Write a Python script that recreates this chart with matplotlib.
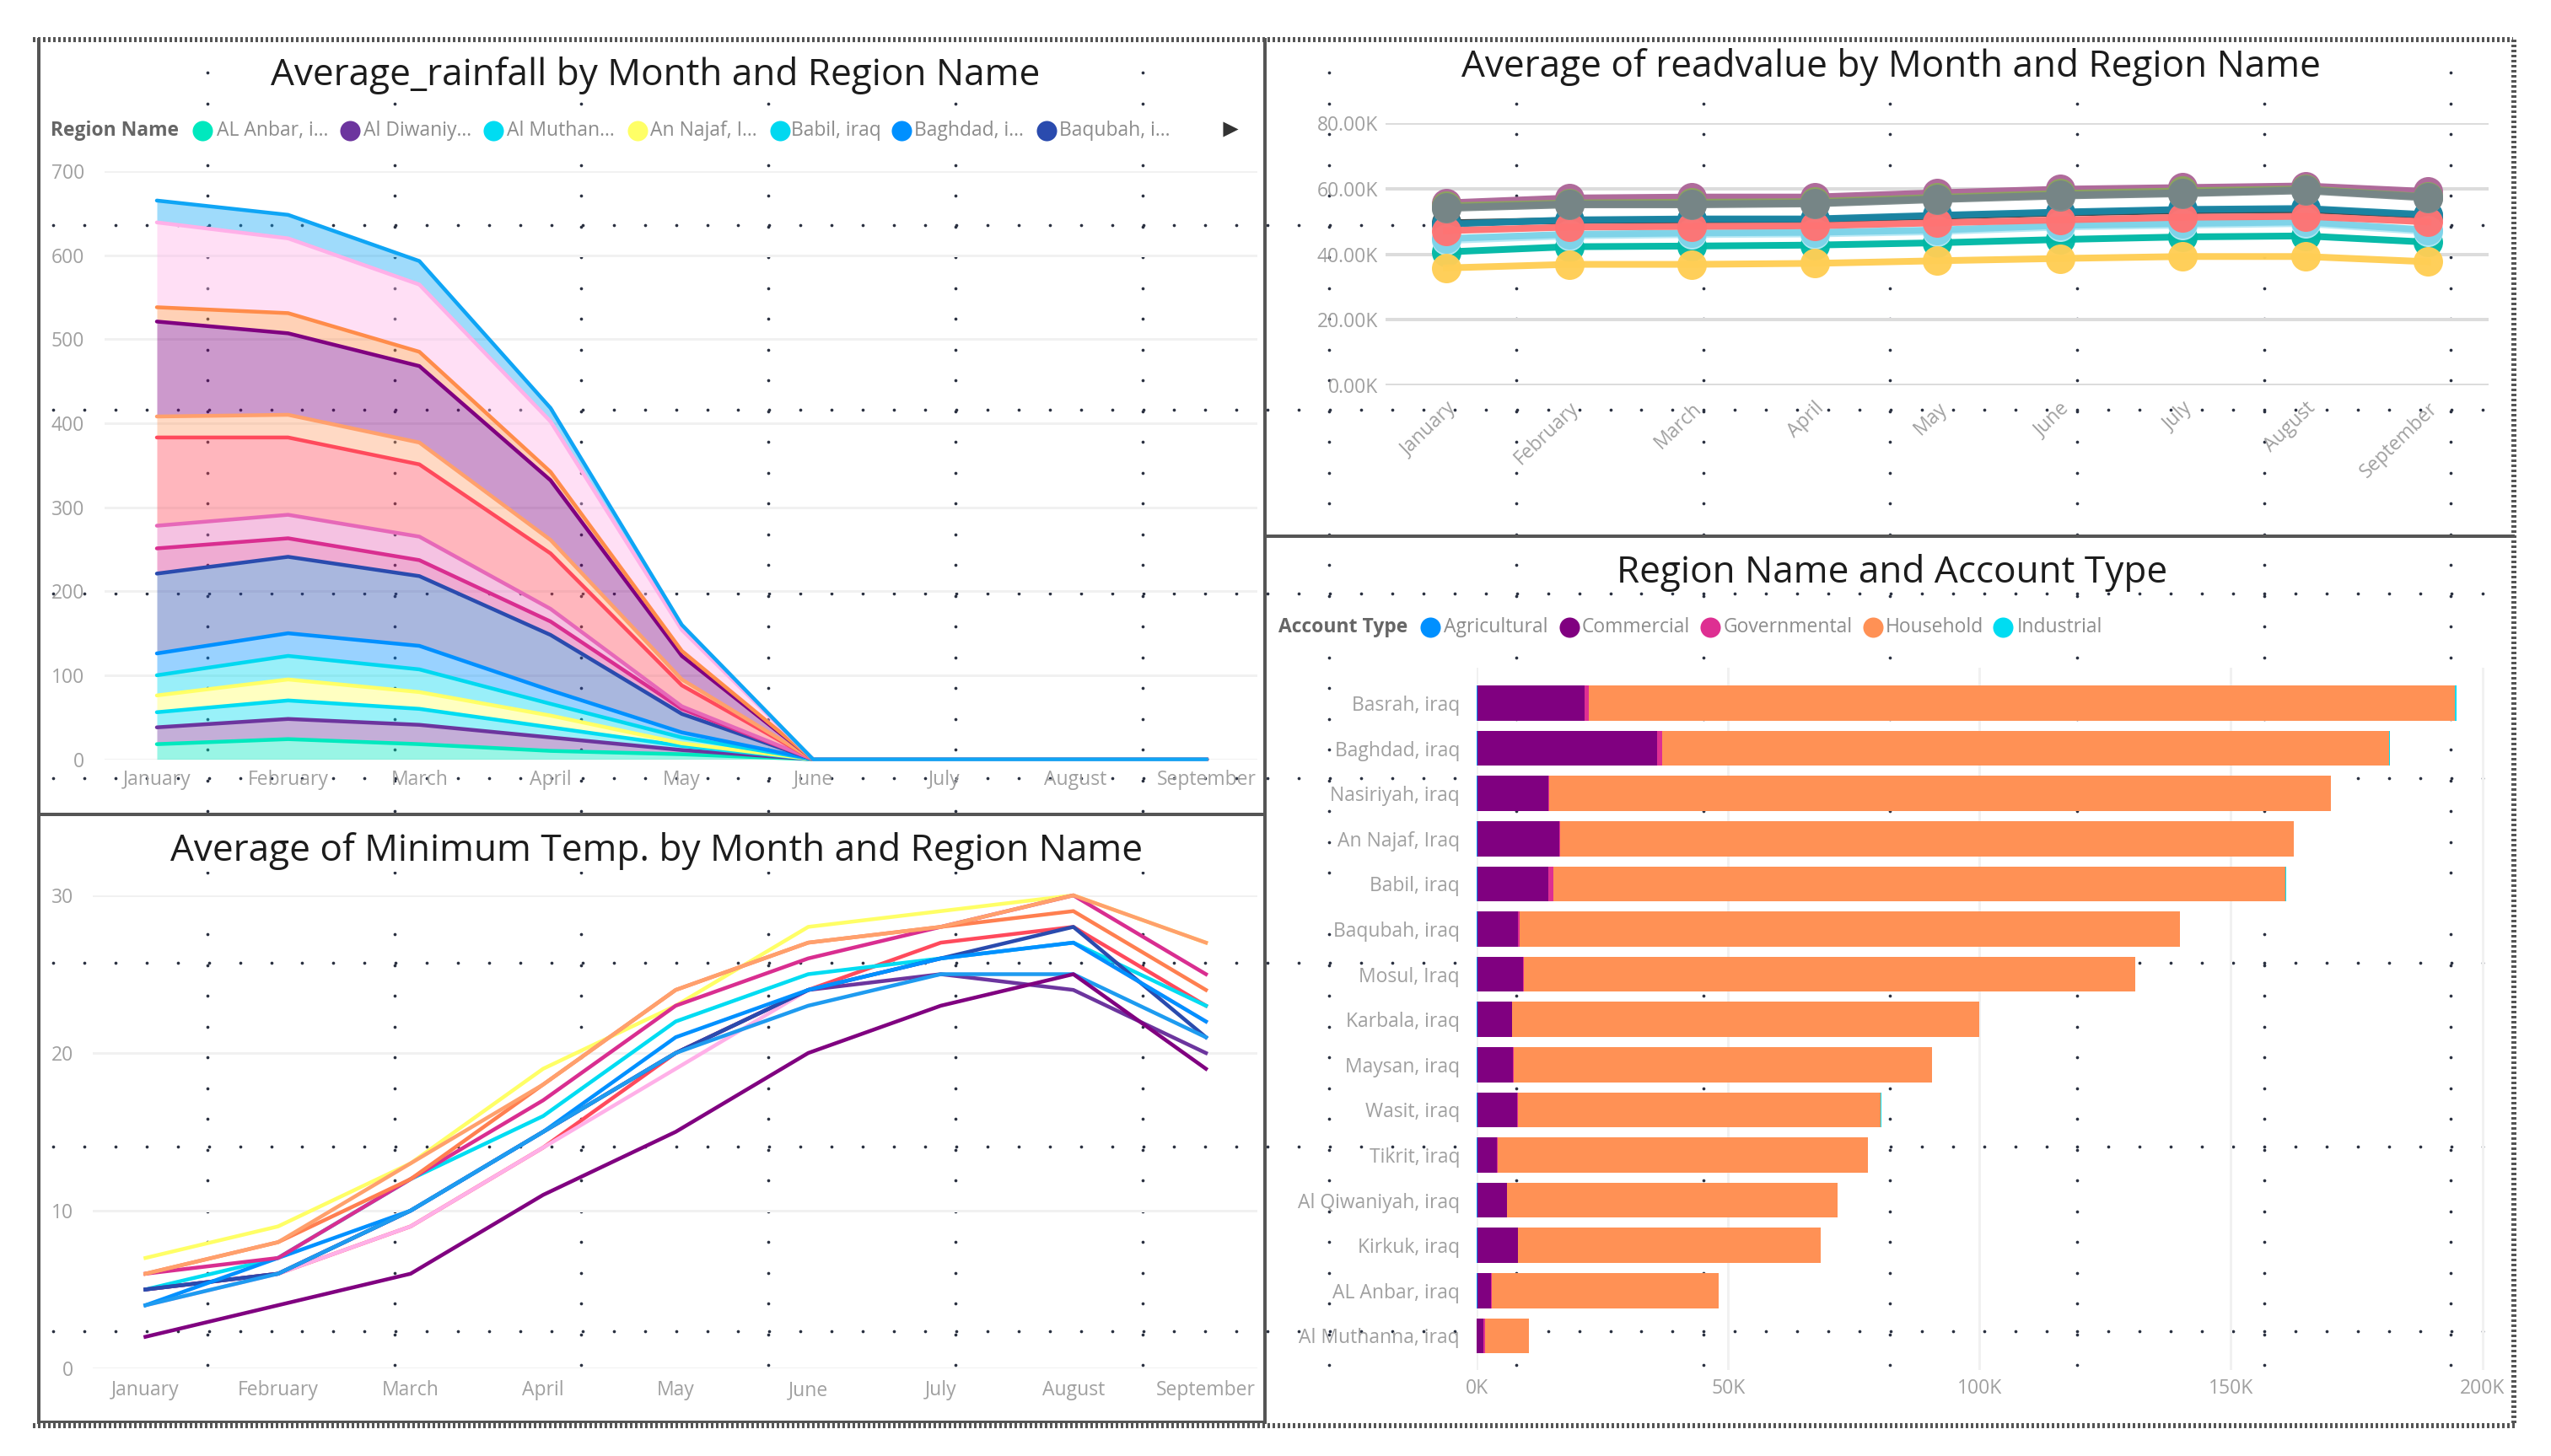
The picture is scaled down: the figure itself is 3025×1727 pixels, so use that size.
import numpy as np
import matplotlib
matplotlib.use("Agg")
import matplotlib.pyplot as plt

plt.rcParams["font.family"] = ["Open Sans", "DejaVu Sans"]

W, H = 3025, 1727
PT = 0.72   # px -> pt at dpi 100

months = ["January", "February", "March", "April", "May", "June", "July", "August", "September"]

# rainfall, upper edge of each stacked layer, bottom to top
rain_edges = [
    [18, 24, 18, 10, 6, 0, 0, 0, 0],
    [38, 48, 41, 26, 11, 0, 0, 0, 0],
    [56, 70, 60, 38, 16, 0, 0, 0, 0],
    [76, 95, 80, 52, 19, 0, 0, 0, 0],
    [100, 123, 107, 66, 26, 0, 0, 0, 0],
    [126, 150, 135, 82, 32, 0, 0, 0, 0],
    [221, 241, 218, 148, 54, 0, 0, 0, 0],
    [251, 263, 237, 164, 60, 0, 0, 0, 0],
    [278, 291, 265, 179, 63, 0, 0, 0, 0],
    [383, 383, 351, 245, 88, 0, 0, 0, 0],
    [408, 410, 377, 261, 95, 0, 0, 0, 0],
    [521, 507, 468, 332, 123, 0, 0, 0, 0],
    [538, 531, 485, 342, 129, 0, 0, 0, 0],
    [639, 620, 565, 402, 154, 0, 0, 0, 0],
    [665, 648, 593, 418, 160, 0, 0, 0, 0],
]
rain_colors = ["#00E8BE", "#6C359E", "#00DCF2", "#FFFF66", "#00D8F0", "#0090FF", "#2A4BAE",
               "#D92E90", "#E668B8", "#FF4A5C", "#FFA06C", "#800080", "#FF8C4A", "#FFB0E8", "#0FA5F5"]
rain_legend = ["AL Anbar, i...", "Al Diwaniy...", "Al Muthan...", "An Najaf, I...", "Babil, iraq", "Baghdad, i...", "Baqubah, i..."]

# readvalue in thousands
read_series = [
    ([55.7, 57.2, 57.5, 57.5, 58.8, 59.9, 60.4, 60.9, 59.2], "#AD6698"),
    ([54.8, 55.7, 55.9, 56.1, 57.4, 58.6, 59.4, 60.0, 57.6], "#8BA65D"),
    ([49.6, 50.3, 50.5, 50.5, 51.6, 52.6, 53.3, 53.6, 51.8], "#374649"),
    ([49.2, 50.5, 50.8, 50.8, 51.9, 52.9, 53.7, 54.0, 52.1], "#1A86A5"),
    ([40.7, 42.3, 42.5, 42.8, 43.5, 44.5, 45.3, 45.6, 43.7], "#00B8A5"),
    ([44.2, 45.6, 46.0, 46.2, 46.9, 48.3, 48.9, 49.4, 46.9], "#B6E9F5"),
    ([44.8, 46.1, 46.5, 46.7, 47.4, 48.8, 49.4, 49.9, 47.4], "#7DD3E8"),
    ([47.2, 48.3, 48.5, 48.7, 49.6, 50.5, 51.3, 51.6, 49.9], "#FF7373"),
    ([54.0, 55.1, 55.1, 55.4, 56.7, 57.8, 58.5, 59.4, 57.2], "#7E8C8D"),
    ([54.3, 55.4, 55.4, 55.7, 57.0, 58.1, 58.8, 59.7, 57.5], "#768586"),
    ([35.8, 36.9, 36.9, 37.2, 38.0, 38.7, 39.3, 39.3, 37.7], "#FFCE55"),
]

temp_series = [
    ([7, 9, 13, 19, 23, 28, 29, 30, 27], "#FFFF66"),
    ([5, 6, 9, 14, 20, 24, 27, 28, 23], "#FF4A5C"),
    ([4, 6, 9, 14, 19, 24, 26, 27, 22], "#FFB0E8"),
    ([5, 7, 12, 16, 22, 25, 26, 27, 23], "#00DCF2"),
    ([5, 6, 10, 15, 20, 24, 25, 24, 20], "#6C359E"),
    ([5, 6, 10, 15, 20, 24, 26, 28, 21], "#2A4BAE"),
    ([4, 7, 10, 15, 21, 24, 26, 27, 22], "#0090FF"),
    ([4, 6, 10, 15, 20, 23, 25, 25, 21], "#1E9BF0"),
    ([6, 7, 12, 17, 23, 26, 28, 30, 25], "#D92E90"),
    ([6, 8, 12, 18, 24, 27, 28, 29, 24], "#FF7F50"),
    ([6, 8, 13, 18, 24, 27, 28, 30, 27], "#FFA06C"),
    ([2, 4, 6, 11, 15, 20, 23, 25, 19], "#800080"),
]

regions = ["Basrah, iraq", "Baghdad, iraq", "Nasiriyah, iraq", "An Najaf, Iraq", "Babil, iraq",
           "Baqubah, iraq", "Mosul, Iraq", "Karbala, iraq", "Maysan, iraq", "Wasit, iraq",
           "Tikrit, iraq", "Al Qiwaniyah, iraq", "Kirkuk, iraq", "AL Anbar, iraq", "Al Muthanna, iraq"]
agricultural = [0.1, 0.2, 0.1, 0.1, 0.1, 0.1, 0.1, 0.1, 0.1, 0.2, 0.1, 0.1, 0.1, 0.1, 0.05]
commercial = [21.4, 35.7, 14.1, 16.4, 14.1, 8.2, 9.2, 6.9, 7.1, 7.8, 4.0, 5.9, 8.1, 2.8, 1.25]
governmental = [0.8, 1.0, 0.2, 0.1, 1.1, 0.2, 0.1, 0.1, 0.1, 0.3, 0.1, 0.1, 0.1, 0.1, 0.3]
household = [172.2, 144.6, 155.4, 145.9, 145.5, 131.3, 121.6, 92.9, 83.2, 72.1, 73.6, 65.7, 60.1, 45.1, 8.8]
industrial = [0.3, 0.2, 0.0, 0.0, 0.2, 0.0, 0.0, 0.0, 0.0, 0.1, 0.0, 0.0, 0.1, 0.0, 0.0]
account_names = ["Agricultural", "Commercial", "Governmental", "Household", "Industrial"]
account_colors = ["#0090FF", "#800080", "#DE2F92", "#FF9155", "#00DCF2"]

fig = plt.figure(figsize=(W / 100, H / 100), dpi=100)


def px_axes(left, top, right, bottom):
    ax = fig.add_axes([left / W, 1 - bottom / H, (right - left) / W, (bottom - top) / H])
    ax.patch.set_alpha(0)
    ax.set_zorder(3)
    for s in ax.spines.values():
        s.set_visible(False)
    return ax


def month_axis(ax, first_px, last_px):
    step = (last_px - first_px) / 8
    box = ax.get_position()
    left, right = box.x0 * W, box.x1 * W
    ax.set_xlim((left - first_px) / step, 8 + (right - last_px) / step)
    ax.set_xticks(range(9))
    ax.set_xticklabels(months)
    ax.tick_params(length=0, colors="#a0a0a0", labelsize=16.5)
    ax.grid(axis="y", color="#f1f1f1", lw=3 * PT)
    ax.set_axisbelow(True)


# background layer: dots, white label boxes, frames, titles, legends
bg = fig.add_axes([0, 0, 1, 1])
bg.set_xlim(0, W)
bg.set_ylim(H, 0)
bg.axis("off")
bg.set_zorder(1)

col_x = np.arange(246, 2950, 221.7)
col_y = np.arange(86, 1650, 36.5)
col_y = col_y[np.abs(col_y - 1070) > 12]
row_y = [267, 485.5, 704, 923, 1142, 1360, 1579]
row_x = np.arange(63, 2950, 36.93)
for x in col_x:
    bg.scatter(np.full(len(col_y), x), col_y, s=7, color="#2A3040", lw=0, zorder=1)
for y in row_y:
    bg.scatter(row_x, np.full(len(row_x), y), s=7, color="#2A3040", lw=0, zorder=1)

for box in [(300, 62, 1255, 112), (50, 135, 1490, 178), (1720, 50, 2800, 105), (190, 980, 1385, 1034),
            (1895, 655, 2600, 702), (1505, 725, 2500, 765)]:
    bg.fill_between([box[0], box[2]], box[1], box[3], color="white", lw=0, zorder=2)

frame = "#555555"
bg.plot([46, 46], [47, 1687], color=frame, lw=4 * PT, zorder=4)
bg.plot([1500, 1500], [47, 1687], color=frame, lw=4 * PT, zorder=4)
bg.plot([46, 1500], [966, 966], color=frame, lw=4 * PT, zorder=4)
bg.plot([1500, 2980], [636, 636], color=frame, lw=4 * PT, zorder=4)
bg.plot([46, 1500], [1686, 1686], color=frame, lw=3 * PT, zorder=4)
for xs, ys in [([39, 2980], [47, 47]), ([39, 2985], [1691, 1691]), ([2981, 2981], [47, 1691])]:
    bg.plot(xs, ys, color=frame, lw=6 * PT, ls=(0, (0.5, 0.5)), zorder=4)

title_kw = dict(ha="center", va="center", fontsize=31.8, color="#1c1c1c", zorder=5)
bg.text(777, 89, "Average_rainfall by Month and Region Name", **title_kw)
bg.text(2242, 79, "Average of readvalue by Month and Region Name", **title_kw)
bg.text(778, 1009, "Average of Minimum Temp. by Month and Region Name", **title_kw)
bg.text(2244, 680, "Region Name and Account Type", **title_kw)

leg_kw = dict(va="center", fontsize=16.5, color="#8c8c8c", zorder=5)
bg.text(60, 155, "Region Name", fontweight="bold", **{**leg_kw, "color": "#666666"})
rain_dot_x = [240, 415, 585, 756, 925, 1069, 1241]
rain_txt_x = [257, 431, 601, 771, 938, 1084, 1256]
for name, c, dx, tx in zip(rain_legend, rain_colors, rain_dot_x, rain_txt_x):
    bg.scatter([dx], [155], s=300, color=c, lw=0, zorder=5)
    bg.text(tx, 155, name, **leg_kw)
bg.scatter([1459], [153], s=170, marker=">", color="#333333", lw=0, zorder=5)

bg.text(1516, 744, "Account Type", fontweight="bold", **{**leg_kw, "color": "#666666"})
acc_dot_x = [1696, 1861, 2028, 2221, 2375]
acc_txt_x = [1712, 1876, 2044, 2236, 2392]
for name, c, dx, tx in zip(account_names, account_colors, acc_dot_x, acc_txt_x):
    bg.scatter([dx], [744], s=300, color=c, lw=0, zorder=5)
    bg.text(tx, 744, name, **leg_kw)

# rainfall area
ax1 = px_axes(124, 203, 1491, 900.6)
month_axis(ax1, 186, 1431)
ax1.set_ylim(0, 700)
ax1.set_yticks(range(0, 701, 100))
ax1.tick_params(axis="x", pad=12 * PT)
ax1.tick_params(axis="y", pad=24 * PT)
x = np.arange(9)
lower = np.zeros(9)
for edge, c in zip(rain_edges, rain_colors):
    ax1.fill_between(x, lower, edge, color=c, alpha=0.4, lw=0)
    ax1.plot(x, edge, color=c, lw=4.5 * PT, clip_on=False, solid_capstyle="round")
    lower = np.array(edge)

# readvalue lines, the band they run in hides the grid and the dots
ax2 = px_axes(1643, 146.5, 2951, 456.6)
month_axis(ax2, 1715, 2879)
ax2.set_ylim(0, 80)
ax2.set_yticks(range(0, 81, 20))
ax2.set_yticklabels([f"{v}.00K" for v in range(0, 81, 20)])
ax2.grid(axis="y", color="#dcdcdc", lw=4 * PT)
ax2.tick_params(axis="y", pad=9 * PT)
ax2.tick_params(axis="x", pad=16 * PT)
for lab in ax2.get_xticklabels():
    lab.set(rotation=44, ha="right", va="top", rotation_mode="anchor")
ax2.fill_between(x, read_series[-1][0], read_series[0][0], color="white", lw=0, zorder=1)
for vals, c in read_series:
    ax2.plot(x, vals, color=c, lw=8 * PT, marker="o", ms=35 * PT, mew=0, alpha=0.97, zorder=2)

# minimum temperature lines
ax3 = px_axes(110, 1062, 1491, 1623)
month_axis(ax3, 172.5, 1430)
ax3.set_ylim(0, 30)
ax3.set_yticks(range(0, 31, 10))
ax3.tick_params(axis="x", pad=14 * PT)
ax3.tick_params(axis="y", pad=23 * PT)
for vals, c in temp_series:
    ax3.plot(x, vals, color=c, lw=4.5 * PT, clip_on=False)

# account type bars
ax4 = px_axes(1751, 792, 2950, 1625)
ax4.set_xlim(0, 1199 / 5.963)
ax4.set_ylim((1625 - 834) / 53.6, (792 - 834) / 53.6)
ax4.set_xticks(range(0, 201, 50))
ax4.set_xticklabels([f"{v}K" for v in range(0, 201, 50)])
ax4.set_yticks(range(len(regions)))
ax4.set_yticklabels(regions)
ax4.tick_params(length=0, colors="#a0a0a0", labelsize=16.5)
ax4.tick_params(axis="y", pad=20 * PT)
ax4.tick_params(axis="x", pad=10 * PT)
ax4.grid(axis="x", color="#f1f1f1", lw=3 * PT)
ax4.set_axisbelow(True)
left = np.zeros(len(regions))
for vals, c in zip([agricultural, commercial, governmental, household, industrial], account_colors):
    ax4.barh(range(len(regions)), vals, left=left, height=0.777, color=c, lw=0)
    left = left + np.array(vals)

fig.savefig("out.png", dpi=100)
